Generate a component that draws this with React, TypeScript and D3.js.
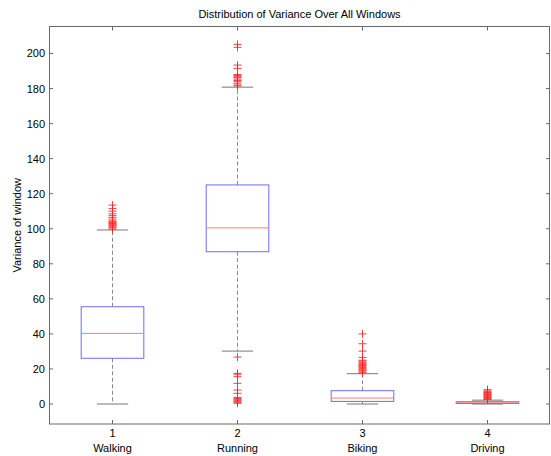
import React from "react";
import { scaleLinear } from "d3";

const categories = ["Walking", "Running", "Biking", "Driving"];
const tickNumbers = ["1", "2", "3", "4"];
const yTicks = [0, 20, 40, 60, 80, 100, 120, 140, 160, 180, 200];

// [lower whisker, Q1, median, Q3, upper whisker]
const walkingStats = [0, 26.1, 40.3, 55.5, 99.3];
const runningStats = [30.2, 86.9, 100.5, 125, 180.8];
const bikingStats = [0, 1.5, 3.4, 7.6, 17.3];
const drivingStats = [0, 0.3, 0.7, 1.3, 2.2];

const walkingOutliers = [
  99.8, 100.5, 101, 101.5, 102, 102.5, 103, 103.5, 104, 104.5, 105.5, 106.5,
  107.5, 108.5, 110, 111.5, 113.5,
];
const runningOutliers = [
  0.4, 1, 1.5, 2.1, 2.7, 3.2, 3.8, 6.1, 8, 11.8, 15.6, 17, 17.5, 26.8, 181.5,
  182, 183, 183.9, 184.6, 185.4, 186.2, 186.8, 187.5, 188, 191.5, 193.4, 203.5,
  205.2,
];
const bikingOutliers = [
  17.8, 18.3, 19, 19.6, 20.2, 20.8, 21.5, 22, 22.6, 23.2, 23.8, 24.5, 25, 26.6,
  30.2, 34.4, 40,
];
const drivingOutliers = [
  2.6, 3, 3.4, 3.8, 4.2, 4.6, 5, 5.4, 5.8, 6.2, 6.6, 7, 7.5, 8.2,
];

const allStats = [walkingStats, runningStats, bikingStats, drivingStats];
const allOutliers = [walkingOutliers, runningOutliers, bikingOutliers, drivingOutliers];

const W = 551;
const H = 456;
const left = 49;
const right = 550;
const top = 26.5;
const bottom = 424;
const font = "'Liberation Sans', Arial, Helvetica, sans-serif";

export default function App() {
  const x = scaleLinear().domain([0.5, 4.5]).range([left, right]);
  const y = scaleLinear().domain([-11.4, 215.4]).range([bottom, top]);
  const step = x(2) - x(1);
  const boxW = step * 0.5;
  const capW = step * 0.25;
  const axisColor = "#6a6a6a";

  return (
    <svg
      width={W}
      height={H}
      style={{ position: "fixed", top: 0, left: 0, background: "#fff" }}
      fontFamily={font}
    >
      <rect x={0} y={0} width={W} height={H} fill="#fff" />
      <text x={(left + right) / 2} y={18} textAnchor="middle" fontSize={11} fill="#000">
        Distribution of Variance Over All Windows
      </text>

      {/* boxes */}
      {allStats.map((s, i) => {
        const cx = Math.round(x(i + 1)) + 0.5;
        const [lo, q1, med, q3, hi] = s.map((v) => y(v));
        return (
          <g key={categories[i]}>
            <line x1={cx} x2={cx} y1={q3} y2={hi} stroke="#8a8a8a" strokeDasharray="4,2.5" />
            <line x1={cx} x2={cx} y1={q1} y2={lo} stroke="#8a8a8a" strokeDasharray="4,2.5" />
            <line x1={cx - capW / 2} x2={cx + capW / 2} y1={hi} y2={hi} stroke="#777" />
            <line x1={cx - capW / 2} x2={cx + capW / 2} y1={lo} y2={lo} stroke="#777" />
            <rect
              x={cx - boxW / 2}
              y={q3}
              width={boxW}
              height={Math.max(q1 - q3, 0.5)}
              fill="none"
              stroke="#6b6bff"
            />
            <line x1={cx - boxW / 2} x2={cx + boxW / 2} y1={med} y2={med} stroke="#ff7a7a" />
            {allOutliers[i].map((v, j) => (
              <path
                key={j}
                d={`M${cx - 4},${y(v)}H${cx + 4}M${cx},${y(v) - 4}V${y(v) + 4}`}
                stroke="#ff2020"
                strokeOpacity={0.85}
                fill="none"
              />
            ))}
          </g>
        );
      })}

      {/* frame */}
      <rect x={left + 0.5} y={top} width={right - left - 1} height={bottom - top} fill="none" stroke={axisColor} />

      {/* y ticks */}
      {yTicks.map((t) => (
        <g key={t}>
          <line x1={left} x2={left + 4} y1={y(t)} y2={y(t)} stroke={axisColor} />
          <line x1={right - 4} x2={right} y1={y(t)} y2={y(t)} stroke={axisColor} />
          <text x={left - 4} y={y(t) + 4} textAnchor="end" fontSize={11} fill="#000">
            {t}
          </text>
        </g>
      ))}

      {/* x ticks */}
      {categories.map((c, i) => {
        const cx = Math.round(x(i + 1)) + 0.5;
        return (
          <g key={c}>
            <line x1={cx} x2={cx} y1={bottom} y2={bottom - 4} stroke={axisColor} />
            <line x1={cx} x2={cx} y1={top} y2={top + 4} stroke={axisColor} />
            <text x={cx} y={437} textAnchor="middle" fontSize={11} fill="#000">
              {tickNumbers[i]}
            </text>
            <text x={cx} y={452} textAnchor="middle" fontSize={11} fill="#000">
              {c}
            </text>
          </g>
        );
      })}

      <text
        transform={`translate(21,${(top + bottom) / 2}) rotate(-90)`}
        textAnchor="middle"
        fontSize={11}
        fill="#000"
      >
        Variance of window
      </text>
    </svg>
  );
}
